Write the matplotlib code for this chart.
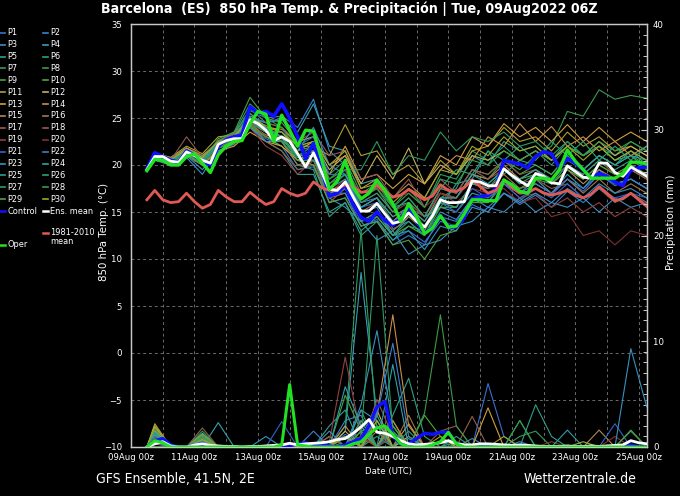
import matplotlib
matplotlib.use("Agg")
import matplotlib.pyplot as plt
from matplotlib.lines import Line2D
from matplotlib import font_manager as fm
import numpy as np

# ---------------- data ----------------
TITLE = "Barcelona  (ES)  850 hPa Temp. & Precipitación | Tue, 09Aug2022 06Z"
XTICK_DAYS = [0, 2, 4, 6, 8, 10, 12, 14, 16]
XTICK_LABELS = ["09Aug 00z", "11Aug 00z", "13Aug 00z", "15Aug 00z", "17Aug 00z",
                "19Aug 00z", "21Aug 00z", "23Aug 00z", "25Aug 00z"]
TEMP_TICKS = [-10, -5, 0, 5, 10, 15, 20, 25, 30, 35]
PRECIP_TICKS = [0, 10, 20, 30, 40]

# 6-hourly steps from 09Aug 12z (step 0) to 25Aug 06z (step 63)
main_steps = list(range(64))
# ensemble members sampled at step 0 and every 12 h from step 1
member_steps = [0] + list(range(1, 64, 2))

clim_temp = [16.3, 17.3, 16.3, 16.0, 16.1, 17.0, 16.1, 15.4, 15.8, 17.3,
             16.6, 16.1, 16.1, 17.1, 16.4, 15.8, 16.1, 17.5, 17.0, 16.7,
             17.0, 18.2, 17.6, 17.3, 17.5, 17.9, 17.7, 17.1, 17.2, 17.8,
             17.2, 16.6, 16.8, 17.4, 16.8, 16.3, 16.7, 17.9, 17.3, 17.2,
             17.6, 18.4, 17.7, 17.0, 17.3, 18.4, 17.6, 17.0, 17.1, 17.5,
             17.0, 16.8, 17.0, 17.3, 16.8, 16.5, 16.9, 17.7, 17.0, 16.2,
             16.4, 17.0, 16.3, 15.6]
mean_temp = [19.5, 20.9, 20.9, 20.4, 20.3, 21.4, 21.0, 20.5, 20.2, 22.2,
             22.6, 22.8, 22.8, 24.8, 24.4, 23.7, 22.6, 23.0, 22.5, 21.2,
             19.8, 21.3, 19.3, 17.4, 17.3, 18.2, 16.6, 15.1, 15.1, 15.9,
             14.8, 13.8, 14.0, 14.9, 14.0, 13.4, 14.6, 16.3, 16.0, 16.0,
             16.1, 18.3, 18.2, 17.8, 17.8, 19.6, 18.9, 18.3, 17.8, 19.1,
             18.8, 18.1, 18.0, 19.9, 19.3, 18.7, 18.6, 20.2, 20.2, 19.2,
             18.8, 19.8, 19.3, 18.8]
control_temp = [19.6, 21.3, 20.9, 20.5, 20.3, 21.5, 21.0, 20.4, 20.0, 22.0,
                22.7, 23.0, 23.2, 26.2, 25.5, 25.7, 25.2, 26.5, 25.0, 23.0,
                20.7, 22.3, 19.6, 16.7, 17.0, 17.9, 15.8, 14.4, 14.0, 15.0,
                14.1, 13.6, 14.3, 15.6, 14.0, 12.8, 13.3, 14.6, 13.5, 13.4,
                14.4, 16.4, 16.6, 16.8, 17.5, 20.5, 20.3, 20.1, 19.7, 20.9,
                21.4, 21.2, 19.7, 20.7, 20.2, 19.5, 18.6, 19.1, 18.8, 18.2,
                17.8, 19.5, 19.7, 19.8]
oper_temp = [19.4, 20.6, 20.5, 20.0, 20.0, 20.9, 21.2, 20.2, 19.2, 21.1,
             22.0, 22.5, 22.6, 24.4, 25.7, 25.4, 22.5, 25.3, 23.7, 22.0,
             23.7, 23.6, 20.7, 17.4, 18.3, 20.5, 17.6, 16.4, 17.0, 18.4,
             17.3, 15.9, 14.0, 15.9, 14.5, 12.7, 13.3, 14.6, 13.4, 13.5,
             14.8, 16.3, 16.3, 16.2, 16.2, 18.4, 17.9, 17.2, 17.0, 18.6,
             18.6, 18.4, 19.5, 21.6, 20.4, 19.5, 18.6, 18.6, 18.6, 18.6,
             19.1, 20.3, 20.3, 20.1]

mean_precip = [0.0, 0.3, 0.5, 0.1, 0.0, 0.0, 0.2, 0.3, 0.15, 0.1,
               0.05, 0.05, 0.0, 0.05, 0.05, 0.1, 0.15, 0.2, 0.35, 0.2,
               0.3, 0.35, 0.4, 0.5, 0.7, 0.8, 1.3, 1.9, 2.6, 1.4,
               1.3, 1.0, 0.6, 0.3, 0.2, 0.25, 0.3, 0.4, 0.6, 0.3,
               0.2, 0.2, 0.3, 0.3, 0.25, 0.2, 0.15, 0.2, 0.15, 0.1,
               0.05, 0.05, 0.05, 0.1, 0.05, 0.05, 0.1, 0.05, 0.1, 0.15,
               0.2, 0.6, 0.4, 0.3]
control_precip = [0.0, 0.6, 0.8, 0.2, 0.0, 0.0, 0.2, 0.3, 0.0, 0.0,
                  0.0, 0.0, 0.0, 0.0, 0.0, 0.0, 0.0, 0.0, 0.1, 0.3,
                  0.4, 0.2, 0.3, 0.1, 0.0, 0.2, 0.5, 0.8, 2.0, 3.8,
                  4.3, 1.0, 0.3, 0.3, 0.8, 1.3, 1.2, 1.4, 1.4, 0.3,
                  0.1, 0.0, 0.0, 0.0, 0.0, 0.0, 0.0, 0.0, 0.0, 0.0,
                  0.0, 0.0, 0.0, 0.0, 0.0, 0.0, 0.0, 0.0, 0.0, 0.0,
                  0.0, 0.2, 0.0, 0.0]
oper_precip = [0.0, 0.6, 0.4, 0.0, 0.0, 0.0, 0.0, 0.0, 0.0, 0.0,
               0.0, 0.0, 0.0, 0.0, 0.0, 0.0, 0.0, 0.2, 5.9, 0.2,
               0.1, 0.0, 0.0, 0.0, 0.0, 0.0, 0.3, 0.5, 1.2, 1.8,
               2.0, 1.2, 0.3, 0.0, 0.0, 0.0, 0.2, 0.5, 1.4, 0.3,
               0.0, 0.0, 0.0, 0.0, 0.0, 0.0, 0.0, 0.0, 0.0, 0.0,
               0.0, 0.0, 0.0, 0.0, 0.0, 0.0, 0.0, 0.0, 0.0, 0.0,
               0.0, 0.0, 0.0, 0.0]

# member 850 hPa temperatures (degC) at member_steps
p01_temp = [19.4, 20.8, 20.1, 21.0, 20.0, 21.5, 22.3, 24.0, 22.8, 22.0, 19.5, 19.8, 16.0, 16.5, 13.5, 14.2, 12.0, 13.0, 11.8, 14.0, 13.5, 15.8, 15.0, 17.0, 16.2, 17.5, 16.8, 18.5, 17.2, 19.0, 17.8, 18.5, 17.5]
p02_temp = [19.6, 21.2, 20.6, 21.8, 20.8, 22.6, 23.3, 25.8, 25.0, 25.2, 24.0, 27.0, 21.5, 20.0, 16.0, 16.5, 13.2, 14.0, 12.5, 15.0, 14.2, 16.5, 15.5, 17.0, 15.8, 16.8, 15.5, 17.2, 16.0, 17.5, 16.2, 17.0, 16.0]
p03_temp = [19.5, 20.7, 20.0, 20.8, 19.0, 21.8, 22.5, 24.5, 23.0, 22.5, 20.5, 20.0, 16.5, 15.5, 14.0, 12.0, 13.0, 10.5, 11.5, 12.0, 13.5, 14.0, 15.5, 15.0, 16.5, 15.0, 16.0, 15.5, 16.5, 15.0, 16.5, 15.5, 16.0]
p04_temp = [19.7, 21.0, 20.5, 21.5, 20.8, 22.5, 23.0, 25.2, 24.5, 24.8, 23.5, 26.5, 22.0, 21.5, 18.0, 18.5, 15.5, 16.0, 14.5, 15.5, 15.0, 17.0, 16.5, 18.0, 17.0, 18.5, 17.0, 19.0, 17.5, 19.5, 18.0, 18.5, 17.5]
p05_temp = [19.3, 20.5, 20.0, 21.2, 20.5, 22.0, 22.5, 24.2, 22.5, 21.5, 19.0, 19.0, 15.0, 16.0, 13.0, 14.5, 12.5, 14.5, 13.5, 15.5, 18.0, 18.5, 21.5, 19.0, 20.5, 20.0, 19.0, 21.0, 19.5, 21.0, 20.0, 21.5, 20.0]
p06_temp = [19.5, 21.0, 20.6, 21.6, 20.8, 22.5, 23.5, 25.5, 24.0, 22.5, 20.0, 19.5, 14.5, 16.0, 12.5, 14.0, 12.0, 13.5, 13.0, 16.5, 17.5, 21.0, 20.0, 22.5, 21.5, 22.0, 20.5, 22.5, 21.0, 22.0, 20.5, 21.0, 19.5]
p07_temp = [19.4, 20.9, 20.4, 21.2, 20.2, 22.0, 22.8, 24.5, 24.0, 23.0, 21.0, 22.0, 19.0, 20.5, 17.0, 18.0, 15.5, 17.5, 15.5, 19.0, 18.5, 21.5, 20.5, 22.0, 20.5, 21.5, 20.0, 22.0, 21.0, 22.0, 21.0, 22.5, 21.5]
p08_temp = [19.6, 21.3, 20.8, 21.8, 21.0, 22.5, 23.2, 26.0, 24.5, 24.0, 22.0, 22.5, 18.0, 19.0, 16.5, 17.5, 15.0, 16.5, 14.5, 17.5, 17.0, 19.5, 19.0, 20.5, 19.5, 21.0, 22.0, 25.7, 25.2, 28.0, 27.0, 27.4, 27.1]
p09_temp = [19.5, 21.0, 20.5, 21.5, 20.3, 22.8, 23.5, 27.2, 25.0, 24.5, 22.5, 23.0, 18.5, 19.5, 15.5, 16.5, 14.0, 15.5, 13.5, 16.5, 16.5, 19.0, 18.5, 20.5, 19.0, 20.0, 19.0, 21.0, 19.5, 21.0, 20.0, 21.0, 20.0]
p10_temp = [19.3, 20.6, 20.2, 21.3, 20.6, 22.0, 22.5, 24.0, 23.0, 22.0, 20.5, 20.5, 17.0, 17.5, 14.0, 14.5, 12.5, 13.5, 12.5, 15.5, 15.5, 18.0, 18.0, 19.5, 18.5, 19.0, 18.0, 19.5, 18.5, 20.0, 19.0, 20.0, 19.0]
p11_temp = [19.6, 21.2, 20.8, 22.0, 21.2, 23.0, 23.2, 25.0, 24.0, 23.5, 22.0, 22.0, 21.0, 24.3, 21.0, 21.5, 19.0, 20.0, 18.0, 20.5, 19.0, 21.5, 22.0, 24.0, 22.5, 23.0, 21.5, 23.5, 22.0, 23.0, 21.5, 22.0, 21.0]
p12_temp = [19.5, 21.0, 20.5, 21.5, 20.8, 22.5, 23.0, 24.5, 23.5, 23.5, 21.5, 22.5, 19.5, 21.0, 18.0, 21.0, 18.5, 21.8, 18.0, 20.0, 19.0, 21.0, 20.5, 21.5, 20.5, 21.5, 20.5, 22.0, 21.0, 22.5, 21.0, 22.0, 21.0]
p13_temp = [19.4, 20.7, 20.2, 21.0, 20.0, 21.5, 22.0, 23.5, 22.5, 22.0, 20.5, 21.5, 19.0, 22.0, 18.5, 19.0, 17.5, 19.0, 18.0, 21.0, 20.0, 23.0, 22.0, 24.4, 23.0, 24.0, 22.5, 24.3, 22.5, 24.0, 22.5, 23.5, 22.5]
p14_temp = [19.6, 21.1, 20.6, 21.8, 21.0, 22.4, 23.4, 24.8, 24.0, 23.8, 22.5, 23.0, 20.0, 21.0, 17.5, 18.5, 16.5, 18.0, 16.5, 19.5, 21.0, 20.5, 23.0, 22.0, 24.4, 22.5, 24.1, 22.0, 23.0, 21.5, 22.5, 21.0, 22.0]
p15_temp = [19.5, 20.9, 20.3, 21.2, 20.2, 22.0, 22.6, 24.3, 23.2, 22.8, 21.0, 21.0, 17.0, 18.0, 15.0, 16.0, 14.0, 15.5, 14.0, 17.0, 16.5, 19.0, 18.5, 20.0, 18.5, 19.5, 18.0, 19.5, 18.0, 19.5, 18.5, 19.5, 18.5]
p16_temp = [19.4, 20.8, 20.4, 21.3, 20.4, 22.2, 22.9, 24.6, 23.5, 22.5, 20.0, 20.5, 16.5, 17.0, 14.0, 15.0, 13.0, 14.5, 13.0, 16.0, 15.5, 18.0, 17.5, 19.0, 17.5, 18.0, 17.0, 18.5, 17.0, 18.5, 17.0, 18.0, 17.0]
p17_temp = [19.5, 21.0, 20.7, 21.5, 20.7, 22.3, 23.0, 24.5, 22.5, 21.5, 19.5, 20.0, 16.0, 17.5, 15.5, 16.5, 14.5, 15.5, 14.5, 17.5, 17.0, 19.5, 19.0, 20.5, 19.0, 19.5, 18.5, 20.0, 19.0, 20.5, 19.0, 19.5, 18.5]
p18_temp = [19.6, 21.3, 20.5, 23.0, 20.8, 22.5, 23.3, 25.0, 24.5, 24.0, 22.5, 23.5, 21.0, 21.5, 18.5, 19.0, 16.5, 18.5, 15.5, 18.5, 17.0, 19.5, 18.5, 19.5, 18.0, 18.5, 17.5, 18.0, 16.5, 17.5, 16.0, 17.0, 16.0]
p19_temp = [19.4, 20.7, 20.2, 21.0, 20.1, 21.8, 22.4, 24.0, 22.0, 21.0, 19.0, 20.5, 17.0, 18.5, 16.0, 17.0, 15.0, 16.0, 14.5, 17.0, 16.5, 18.5, 17.5, 18.0, 16.5, 17.0, 15.5, 16.5, 15.0, 16.0, 14.5, 15.5, 14.5]
p20_temp = [19.5, 21.0, 20.4, 21.4, 20.5, 22.0, 22.7, 24.7, 23.0, 22.8, 21.0, 21.5, 18.0, 19.5, 17.0, 17.5, 16.5, 17.0, 15.5, 17.0, 16.0, 17.5, 17.0, 17.5, 16.0, 16.5, 14.5, 15.0, 12.5, 13.0, 11.5, 13.0, 12.5]
p21_temp = [19.5, 20.9, 20.3, 21.3, 20.3, 22.1, 22.7, 24.5, 23.5, 23.5, 22.0, 23.0, 19.0, 19.0, 15.5, 16.0, 14.0, 15.0, 13.5, 16.0, 15.0, 17.5, 16.5, 18.0, 16.5, 17.5, 16.5, 18.0, 16.5, 17.5, 16.5, 17.0, 16.5]
p22_temp = [19.6, 21.1, 20.6, 21.6, 20.6, 22.4, 23.0, 25.0, 24.5, 25.0, 22.0, 21.5, 17.0, 17.0, 13.5, 14.0, 11.5, 12.5, 11.5, 14.5, 14.0, 16.5, 16.0, 18.0, 17.0, 18.0, 17.0, 18.5, 17.5, 19.0, 18.0, 18.5, 17.5]
p23_temp = [19.4, 20.6, 20.0, 21.0, 19.5, 21.5, 22.2, 24.0, 22.5, 22.5, 21.5, 24.0, 20.0, 19.0, 15.0, 15.5, 12.5, 13.0, 11.0, 13.5, 13.0, 15.5, 15.0, 17.0, 16.0, 17.0, 16.0, 17.5, 16.5, 18.0, 17.0, 17.5, 16.5]
p24_temp = [19.5, 20.8, 20.4, 21.2, 20.4, 22.2, 22.8, 24.8, 23.8, 23.0, 21.0, 21.0, 17.5, 18.5, 15.5, 16.5, 14.5, 15.5, 14.0, 16.5, 16.5, 19.0, 18.0, 19.5, 18.5, 19.5, 18.5, 20.5, 19.5, 21.0, 20.0, 21.0, 20.5]
p25_temp = [19.5, 21.0, 20.4, 21.4, 20.6, 22.3, 23.0, 25.5, 24.0, 23.0, 20.5, 21.0, 16.5, 17.5, 14.0, 15.0, 12.5, 14.0, 12.5, 16.0, 15.5, 18.0, 17.5, 19.5, 18.0, 19.0, 18.0, 20.0, 19.0, 20.5, 19.5, 20.5, 19.5]
p26_temp = [19.4, 20.8, 20.5, 21.5, 20.7, 22.1, 22.8, 24.8, 23.5, 22.8, 20.8, 20.5, 17.5, 19.0, 16.0, 17.0, 15.0, 16.5, 14.5, 17.5, 19.5, 19.0, 21.5, 20.5, 22.0, 20.5, 22.5, 21.0, 22.5, 20.5, 22.0, 20.5, 22.0]
p27_temp = [19.6, 21.1, 20.6, 21.6, 20.8, 22.6, 23.4, 26.5, 25.0, 24.0, 21.5, 22.0, 18.0, 19.5, 19.5, 22.5, 19.0, 21.0, 20.5, 23.5, 21.5, 23.0, 22.5, 23.5, 22.0, 22.5, 21.0, 22.5, 21.0, 22.0, 20.5, 21.5, 20.5]
p28_temp = [19.5, 20.9, 20.3, 21.2, 20.2, 22.0, 22.5, 24.5, 23.5, 23.0, 21.0, 21.5, 18.5, 20.0, 16.5, 17.5, 15.5, 17.0, 15.5, 18.5, 18.0, 20.5, 20.0, 21.5, 20.5, 21.5, 20.5, 22.0, 21.0, 22.5, 21.5, 22.5, 21.5]
p29_temp = [19.4, 20.7, 20.2, 21.1, 20.0, 21.8, 22.4, 24.2, 23.0, 22.5, 20.5, 20.0, 16.0, 16.5, 13.5, 14.0, 11.5, 12.0, 10.0, 12.5, 13.0, 16.0, 16.0, 18.5, 17.5, 18.5, 18.0, 19.5, 18.5, 20.0, 19.0, 20.0, 19.0]
p30_temp = [19.5, 21.0, 20.6, 21.6, 20.8, 22.5, 23.0, 25.0, 24.2, 23.5, 22.0, 22.5, 20.0, 21.5, 17.5, 18.0, 16.0, 17.5, 16.5, 19.5, 19.0, 22.0, 21.0, 23.0, 21.5, 22.0, 20.5, 22.0, 20.5, 22.0, 20.5, 21.5, 20.5]

# member precipitation (mm) at member_steps
p01_prec = [0, 0.8, 0, 0, 0.5, 0, 0, 0, 0, 0, 0, 0, 0, 1.2, 0, 2.0, 1.0, 0, 0, 0, 0, 0, 6.0, 1.0, 0, 0, 0, 0, 0, 0, 0, 0, 0]
p02_prec = [0, 0.5, 0, 0, 0, 0, 0, 0, 0, 0, 0, 1.5, 0, 2.5, 3.0, 0, 1.5, 0, 0, 0, 0, 0, 0, 0, 0.5, 0, 0, 0, 0, 0, 0, 0, 0]
p03_prec = [0, 1.2, 0, 0, 0, 0, 0, 0, 1.0, 0, 0, 0, 0, 0, 4.0, 11.0, 2.0, 0, 0, 0, 0, 0.8, 0, 0, 0, 0, 0, 0, 0, 0, 0, 0, 0]
p04_prec = [0, 0.6, 0, 0, 0, 2.3, 0, 0, 0, 0, 0, 0, 0, 1.5, 16.5, 3.0, 0, 0, 0, 0, 0.5, 0, 0, 0, 0, 0, 0, 0, 0, 0, 0, 0, 0]
p05_prec = [0, 1.5, 0, 0, 1.3, 0, 0, 0, 0, 0, 0, 0, 2.0, 3.5, 0, 1.0, 0, 0.8, 0, 0, 0, 0, 0, 0, 0, 0, 0, 0, 0, 0, 0, 0, 0]
p06_prec = [0, 0, 0, 0, 0.9, 0, 0, 0, 0, 0, 0, 0, 0, 0, 2.0, 0, 3.0, 6.5, 1.0, 0, 0, 0, 0, 0, 0, 0, 0, 0, 0, 0, 0, 0, 0]
p07_prec = [0, 1.8, 0, 0, 1.5, 0, 0, 0, 0, 0, 0, 0, 0, 2.0, 20.5, 1.5, 0, 0, 0, 0.5, 0, 0, 0, 0, 0, 0, 0, 0, 0, 0, 0, 0, 0]
p08_prec = [0, 1.0, 0, 0, 0, 0, 0, 0, 0, 0, 0, 0, 0.5, 0, 3.5, 0, 2.0, 0, 0, 0, 0, 0, 0, 0, 1.0, 1.5, 0, 0, 0, 0, 0, 0, 0]
p09_prec = [0, 1.3, 0, 0, 1.0, 0, 0, 0, 0, 0, 0, 0, 0, 4.9, 1.5, 0, 1.0, 0, 0, 0, 0, 0, 0, 0, 2.5, 0, 0, 0, 0, 0, 0, 0, 0]
p10_prec = [0, 0, 0, 0, 0.6, 0, 0, 0, 0, 0, 0, 0, 0, 0, 0, 2.5, 0, 0, 3.0, 1.0, 0, 0, 0, 0, 0, 0, 0, 0, 0, 0, 0, 0, 0]
p11_prec = [0, 2.2, 0, 0, 0, 0, 0, 0, 0, 0, 0, 0, 1.0, 0, 1.5, 0, 2.5, 0, 0, 0, 0, 0, 0, 1.0, 0, 0, 0, 0, 0, 0, 0, 0, 0]
p12_prec = [0, 1.6, 0, 0, 0.8, 0, 0, 0, 0, 0, 0, 0, 0, 1.5, 0, 3.5, 0, 1.0, 0, 0, 0, 0, 0, 0, 0, 0, 0, 0, 0, 0, 0, 0, 0]
p13_prec = [0, 2.0, 0, 0, 1.2, 0, 0, 0, 0, 0, 0, 0, 0, 0, 2.0, 0, 0, 2.2, 0, 0, 0, 0, 3.7, 0, 0, 0, 0, 0, 0, 0, 0, 0, 0]
p14_prec = [0, 1.1, 0, 0, 0, 0, 0, 0, 0, 0, 0, 0, 0, 2.0, 0, 3.0, 12.5, 2.0, 0, 0, 0, 0, 0, 0, 0, 0, 0, 0, 0, 0, 0, 0, 0]
p15_prec = [0, 0, 0, 0, 0.7, 0, 0, 0, 0, 0, 0, 0, 0, 0, 1.0, 0, 2.5, 0, 0, 0, 0, 0, 0, 0, 0, 0, 0, 0, 0, 1.6, 0, 0, 0]
p16_prec = [0, 0.9, 0, 0, 0, 0, 0, 0, 0, 0, 0, 0, 0, 1.0, 0, 1.5, 0, 3.0, 0, 0, 0, 0, 0, 0, 0, 0, 0, 0, 0, 0, 0, 0, 0]
p17_prec = [0, 0.3, 0, 0, 1.8, 0, 0, 0, 0, 0, 0, 0, 1.0, 0, 2.5, 0, 0, 0, 0, 0, 0, 2.9, 0, 0, 0, 0, 0, 0, 0, 0, 0, 0, 0]
p18_prec = [0, 0.6, 0, 0, 0, 0, 0, 0, 0, 0, 0, 0, 0, 0, 0, 4.5, 1.0, 0, 0, 1.5, 2.0, 0, 0, 0, 0, 0, 0, 0, 0, 0, 0, 0, 0]
p19_prec = [0, 0, 0, 0, 0, 0, 0, 0, 0, 0, 0, 0, 0.5, 8.5, 1.0, 0, 1.0, 0, 0, 0, 0, 0, 0, 0, 0, 0, 0, 0, 0, 0, 0, 0, 0]
p20_prec = [0, 0, 0, 0, 0, 0, 0, 0, 0, 0, 0, 0, 0, 0, 1.0, 2.0, 0, 0, 0, 0, 0, 0, 0, 0, 0, 0, 0.5, 0, 0, 0, 1.0, 0, 0]
p21_prec = [0, 1.0, 0, 0, 0, 0, 0, 0, 0, 2.4, 0, 0, 0, 0, 2.0, 0, 1.5, 0, 0, 0, 0, 0, 0, 0, 0, 0, 0, 0, 0, 0, 2.2, 0, 0]
p22_prec = [0, 0.4, 0, 0, 0, 0, 0, 0, 0, 0, 0, 0, 0, 0, 0, 3.0, 9.8, 1.0, 0, 0, 0, 0, 0, 0, 0, 0, 0, 0, 0, 0, 0, 0, 0]
p23_prec = [0, 0.7, 0, 0, 0.5, 0, 0, 0, 0, 0, 0, 0, 1.5, 0, 3.5, 2.5, 0, 0, 0, 0, 0, 0, 0, 0, 0, 0, 0, 0, 0, 0, 0, 9.3, 3.8]
p24_prec = [0, 1.4, 0, 0, 0, 0, 0, 0, 0, 0, 0, 0, 0, 5.7, 2.0, 0, 7.8, 0, 0, 0, 0, 0, 0, 0, 0, 0, 0, 1.6, 0, 0, 0, 0, 0]
p25_prec = [0, 0, 0, 0, 1.0, 0, 0, 0, 0, 0, 0, 0, 0, 0, 1.5, 2.0, 0, 0, 0, 0, 0, 0, 0, 0, 0, 4.0, 1.0, 0, 0, 0, 0, 0, 0]
p26_prec = [0, 1.2, 0, 0, 0, 0, 0, 0, 0, 0, 0, 0, 0, 0, 2.5, 0, 0, 1.5, 0, 0, 1.0, 0, 0, 0, 0, 0, 0, 0, 0, 0, 0, 1.5, 0]
p27_prec = [0, 0.6, 0, 0, 0.8, 0, 0, 0, 0, 0, 0, 0, 0, 0, 1.0, 20.0, 1.5, 0, 0, 0, 0, 0, 0, 0, 2.5, 0, 0, 0, 0, 0, 0, 0, 0]
p28_prec = [0, 1.7, 0, 0, 0, 0, 0, 0, 0, 0, 0, 0, 0, 1.0, 0, 0, 0, 0, 3.2, 12.5, 2.0, 0, 0, 0, 0, 0, 0, 0, 0, 0, 0, 0, 0]
p29_prec = [0, 0, 0, 0, 1.1, 0, 0, 0, 0, 0, 0, 0, 0, 0, 1.5, 0, 2.0, 0, 0, 0, 0, 0, 0, 0, 0, 0, 0, 0, 0, 0, 0, 1.6, 0]
p30_prec = [0, 1.9, 0, 0, 0.7, 0, 0, 0, 0, 0, 0, 0, 0, 1.0, 0, 2.5, 0, 0, 0, 1.0, 0, 0, 0, 0, 0, 0, 0, 0, 0.5, 0, 0, 0, 0]

MEMBER_NAMES = ["P%d" % k for k in range(1, 31)]
MEMBER_COLORS = ["#3a6fd0", "#3a82d0", "#3a90c0", "#38a0b0", "#30a090",
                 "#2ea080", "#2e9a62", "#3a9a50", "#4aa040", "#50a838",
                 "#b0a030", "#c0b060", "#d0a040", "#c88f48", "#b08858",
                 "#a07850", "#906048", "#905858", "#904040", "#803030",
                 "#3262c8", "#3a80c8", "#3890c0", "#30a0a8", "#2ea088",
                 "#2ea078", "#2e9a60", "#3a9a48", "#50a040", "#a0a828"]
member_temps = [p01_temp, p02_temp, p03_temp, p04_temp, p05_temp, p06_temp, p07_temp, p08_temp, p09_temp, p10_temp,
                p11_temp, p12_temp, p13_temp, p14_temp, p15_temp, p16_temp, p17_temp, p18_temp, p19_temp, p20_temp,
                p21_temp, p22_temp, p23_temp, p24_temp, p25_temp, p26_temp, p27_temp, p28_temp, p29_temp, p30_temp]
member_precs = [p01_prec, p02_prec, p03_prec, p04_prec, p05_prec, p06_prec, p07_prec, p08_prec, p09_prec, p10_prec,
                p11_prec, p12_prec, p13_prec, p14_prec, p15_prec, p16_prec, p17_prec, p18_prec, p19_prec, p20_prec,
                p21_prec, p22_prec, p23_prec, p24_prec, p25_prec, p26_prec, p27_prec, p28_prec, p29_prec, p30_prec]

bad = [(MEMBER_NAMES[k], len(a), len(b)) for k, (a, b) in enumerate(zip(member_temps, member_precs))
       if len(a) != len(member_steps) or len(b) != len(member_steps)]
for nm, arr in [("clim", clim_temp), ("mean", mean_temp), ("ctl", control_temp), ("oper", oper_temp),
                ("meanp", mean_precip), ("ctlp", control_precip), ("operp", oper_precip)]:
    if len(arr) != len(main_steps):
        bad.append((nm, len(arr)))
if bad:
    raise SystemExit("length mismatch: %r" % bad)

# ---------------- fonts ----------------
has_cond = any(f.name == "DejaVu Sans" and "condensed" in str(f.stretch) for f in fm.fontManager.ttflist)
STRETCH = "condensed" if has_cond else "normal"
FS = 1.0 if has_cond else 0.88
plt.rcParams["font.family"] = ["DejaVu Sans"]
plt.rcParams["font.stretch"] = STRETCH

W, H = 680, 496
def fx(x):
    return x / W
def fy(y):
    return 1 - y / H

fig = plt.figure(figsize=(W / 100, H / 100), dpi=100, facecolor="black")
ax = fig.add_axes([fx(131), fy(447), (646.7 - 131) / W, (447 - 24) / H])
ax.set_facecolor("black")
ax2 = ax.twinx()

t_main = 0.5 + 0.25 * np.asarray(main_steps)
t_mem = 0.5 + 0.25 * np.asarray(member_steps)

for temps, precs, col in zip(member_temps, member_precs, MEMBER_COLORS):
    ax.plot(t_mem, temps, color=col, lw=0.8, zorder=2)
    ax2.plot(t_mem, precs, color=col, lw=0.8, zorder=2)

ax.plot(t_main, control_temp, color="#1010ff", lw=2.6, zorder=3)
ax.plot(t_main, clim_temp, color="#e05a55", lw=2.0, zorder=4)
ax.plot(t_main, mean_temp, color="white", lw=2.0, zorder=5)
ax.plot(t_main, oper_temp, color="#22e022", lw=2.4, zorder=6)

ax2.plot(t_main, control_precip, color="#1010ff", lw=2.4, zorder=3)
ax2.plot(t_main, mean_precip, color="white", lw=2.0, zorder=4)
ax2.plot(t_main, oper_precip, color="#22e022", lw=2.2, zorder=5)

ax.set_xlim(0, 16.25)
ax.set_ylim(-10, 35)
ax2.set_ylim(0, 40)
ax.set_xticks(XTICK_DAYS)
ax.set_xticklabels(XTICK_LABELS)
ax.set_xticks(np.arange(1, 16, 2), minor=True)
ax.set_yticks(TEMP_TICKS)
ax2.set_yticks(PRECIP_TICKS)
ax2.set_yticks(np.arange(0, 41, 1), minor=True)

tick_fs = 6.8 * FS
ax.tick_params(axis="x", which="both", length=0, pad=4, colors="white", labelsize=tick_fs)
ax.tick_params(axis="y", which="both", length=0, pad=6.5, colors="white", labelsize=tick_fs)
ax2.tick_params(axis="y", which="major", direction="in", length=4, width=0.8, pad=4.5,
                color="#c8c8c8", labelcolor="white", labelsize=tick_fs)
ax2.tick_params(axis="y", which="minor", direction="in", length=3, width=0.7, color="#c8c8c8")

grid_kw = dict(color="#6a6a6a", lw=0.7, ls=(0, (3, 3)))
ax.grid(True, axis="x", which="both", **grid_kw)
ax.grid(True, axis="y", which="major", **grid_kw)
ax.set_axisbelow(True)

for a in (ax, ax2):
    for s in a.spines.values():
        s.set_color("#c8c8c8")
        s.set_linewidth(0.9)

ax.set_xlabel("Date (UTC)", color="white", fontsize=6.8 * FS, labelpad=4)
fig.text(fx(104), fy(232), "850 hPa Temp. (°C)", rotation=90, ha="center", va="center",
         color="white", fontsize=8.2 * FS)
fig.text(fx(671), fy(222), "Precipitation (mm)", rotation=90, ha="center", va="center",
         color="white", fontsize=8.2 * FS)

fig.text(fx(349), fy(9), TITLE, ha="center", va="center", color="white",
         fontsize=10.2 * FS, fontweight="bold")
fig.text(fx(96), fy(479), "GFS Ensemble, 41.5N, 2E", ha="left", va="center",
         color="white", fontsize=10 * FS)
fig.text(fx(636), fy(479), "Wetterzentrale.de", ha="right", va="center",
         color="white", fontsize=10 * FS)

# ---------------- legend (left margin) ----------------
leg_fs = 6.6 * FS
row0, dy = 32.7, 11.9
for k, (nm, col) in enumerate(zip(MEMBER_NAMES, MEMBER_COLORS)):
    r, c = divmod(k, 2)
    y = row0 + dy * r
    x0 = 0 if c == 0 else 43
    fig.add_artist(Line2D([fx(x0), fx(x0 + 5)], [fy(y), fy(y)], color=col, lw=1.2,
                          transform=fig.transFigure))
    fig.text(fx(x0 + 7), fy(y), nm, ha="left", va="center", color="white", fontsize=leg_fs)

y = row0 + dy * 15
fig.add_artist(Line2D([fx(0), fx(5)], [fy(y), fy(y)], color="#1010ff", lw=1.8, transform=fig.transFigure))
fig.text(fx(7), fy(y), "Control", ha="left", va="center", color="white", fontsize=leg_fs)
fig.add_artist(Line2D([fx(43), fx(48)], [fy(y), fy(y)], color="white", lw=1.8, transform=fig.transFigure))
fig.text(fx(50), fy(y), "Ens. mean", ha="left", va="center", color="white", fontsize=leg_fs)
fig.add_artist(Line2D([fx(43), fx(48)], [fy(233), fy(233)], color="#e05a55", lw=1.8, transform=fig.transFigure))
fig.text(fx(50), fy(228), "1981-2010\nmean", ha="left", va="top", color="white",
         fontsize=leg_fs, linespacing=0.95)
fig.add_artist(Line2D([fx(0), fx(5)], [fy(245), fy(245)], color="#22e022", lw=1.8, transform=fig.transFigure))
fig.text(fx(7), fy(245), "Oper", ha="left", va="center", color="white", fontsize=leg_fs)

fig.savefig("out.png", dpi=100, facecolor="black")
